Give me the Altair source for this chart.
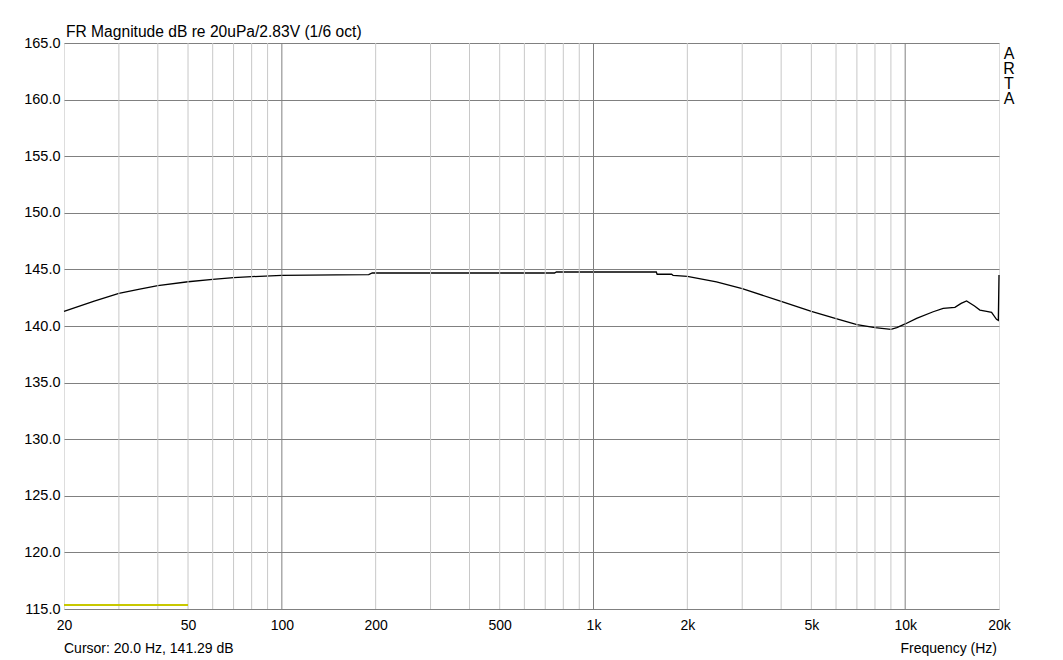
import altair as alt
import pandas as pd

# ---- data ----
freq = [20, 25, 30, 35, 40, 50, 60, 70, 80, 100, 150, 190, 195, 300, 500, 750, 760, 1000,
        1590, 1600, 1780, 1800, 2000, 2480, 3000, 4000, 5000, 6000, 7000, 8000, 9000,
        9400, 10000, 10880, 12300, 13240, 14440, 15120, 15740, 16690, 17370, 18250,
        18930, 19630, 19900, 20000]
db = [141.29, 142.20, 142.89, 143.25, 143.56, 143.91, 144.12, 144.27, 144.36, 144.48,
      144.52, 144.54, 144.68, 144.68, 144.68, 144.68, 144.77, 144.77,
      144.77, 144.57, 144.57, 144.48, 144.39, 143.89, 143.30, 142.18, 141.30, 140.65,
      140.12, 139.85, 139.71, 139.85, 140.18, 140.68, 141.26, 141.56, 141.65, 142.00,
      142.21, 141.77, 141.41, 141.30, 141.21, 140.59, 140.50, 144.50]

minor_grid = [30, 40, 50, 60, 70, 80, 90, 200, 300, 400, 500, 600, 700, 800, 900,
              2000, 3000, 4000, 5000, 6000, 7000, 8000, 9000]
major_grid = [100, 1000, 10000]
x_tick_values = [20, 50, 100, 200, 500, 1000, 2000, 5000, 10000, 20000]
x_tick_labels = ["20", "50", "100", "200", "500", "1k", "2k", "5k", "10k", "20k"]
y_tick_values = [115, 120, 125, 130, 135, 140, 145, 150, 155, 160, 165]
cursor_freq = [20, 50]
cursor_db = [115.35, 115.35]

title_text = "FR Magnitude dB re 20uPa/2.83V (1/6 oct)"
cursor_text = "Cursor: 20.0 Hz, 141.29 dB"
xlabel_text = "Frequency (Hz)"
brand_text = "A\nR\nT\nA"

FONT = "Liberation Sans"
W, H = 935, 566

curve = pd.DataFrame({"f": freq, "db": db})
minor_df = pd.DataFrame({"f": minor_grid})
major_df = pd.DataFrame({"f": major_grid})
cursor_df = pd.DataFrame({"f": cursor_freq, "db": cursor_db})

xscale = alt.Scale(type="log", domain=[20, 20000], nice=False)
yscale = alt.Scale(domain=[115, 165], nice=False, zero=False)

label_expr = " : ".join(
    [f"datum.value == {v} ? '{l}'" for v, l in zip(x_tick_values, x_tick_labels)]
) + " : ''"

xaxis = alt.Axis(values=x_tick_values, labelExpr=label_expr, ticks=False,
                 grid=False, domain=False, labelPadding=9, labelFontSize=14,
                 labelFont=FONT, labelColor="#000", labelFlush=False, title=None)
yaxis = alt.Axis(values=y_tick_values, format=".1f", ticks=False, grid=True,
                 gridColor="#808080", gridWidth=1, domain=False,
                 labelPadding=4, labelFontSize=14.5, labelFont=FONT,
                 labelColor="#000", title=None)

line = alt.Chart(curve).mark_line(color="#000000", strokeWidth=1.3).encode(
    x=alt.X("f:Q", scale=xscale, axis=xaxis),
    y=alt.Y("db:Q", scale=yscale, axis=yaxis),
)

minor = alt.Chart(minor_df).mark_rule(color="#c8c8c8", strokeWidth=1).encode(
    x=alt.X("f:Q", scale=xscale, axis=xaxis)
)
major = alt.Chart(major_df).mark_rule(color="#808080", strokeWidth=1).encode(
    x=alt.X("f:Q", scale=xscale, axis=xaxis)
)

cursor = alt.Chart(cursor_df).mark_line(color="#c8c800", strokeWidth=2).encode(
    x=alt.X("f:Q", scale=xscale, axis=xaxis), y=alt.Y("db:Q", scale=yscale, axis=yaxis)
)

def txt(s, x, y, align="left", baseline="alphabetic", size=14, **kw):
    return alt.Chart(pd.DataFrame({"t": [s]})).mark_text(
        align=align, baseline=baseline, font=FONT, fontSize=size, color="#000", **kw
    ).encode(text="t:N", x=alt.value(x), y=alt.value(y))

title = txt(title_text, 2, -6, size=15.6)
cur = txt(cursor_text, 0, 610, size=14)
xlab = txt(xlabel_text, W - 2, 610, align="right", size=14)
brand = txt(brand_text, 945, 3, align="center", baseline="top", size=16,
            lineBreak="\n", lineHeight=15)

chart = alt.layer(line, minor, major, cursor, title, cur, xlab, brand).properties(
    width=W, height=H,
    autosize=alt.AutoSizeParams(type="none"),
    padding={"left": 56, "top": 35, "right": 56, "bottom": 50},
).configure_view(stroke="#000000", strokeWidth=1).configure(background="#ffffff")

chart.save("out.html", embed_options={"renderer": "svg", "actions": False})
